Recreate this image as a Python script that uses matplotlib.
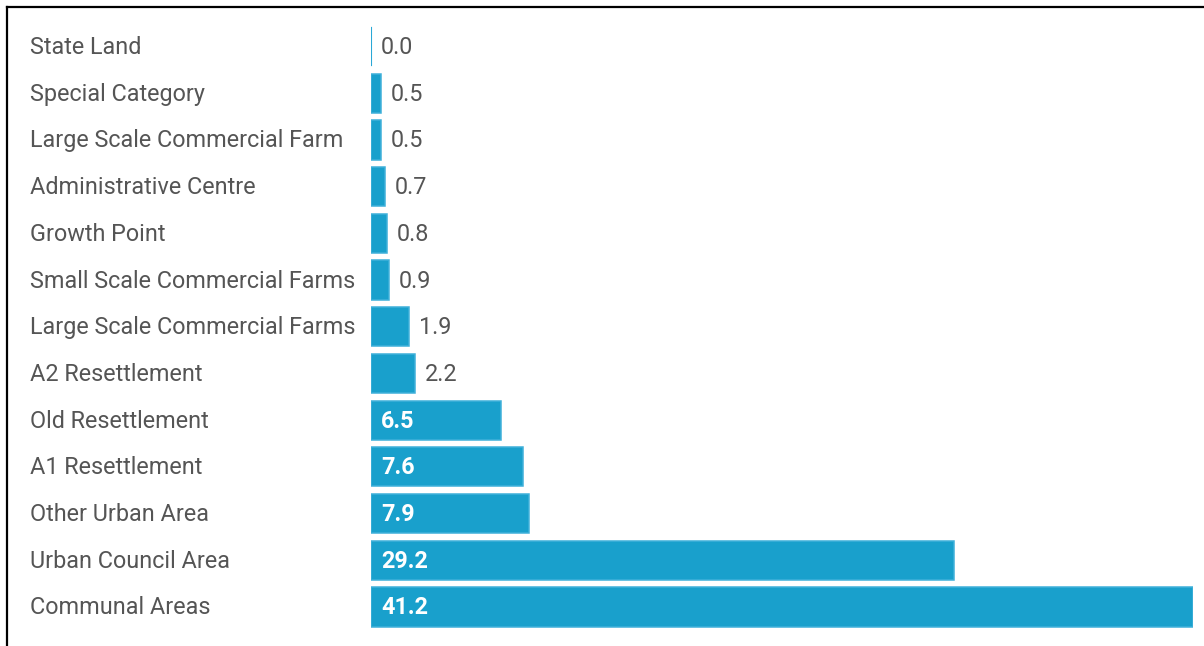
import matplotlib.pyplot as plt
from matplotlib.lines import Line2D

categories = [
    "State Land",
    "Special Category",
    "Large Scale Commercial Farm",
    "Administrative Centre",
    "Growth Point",
    "Small Scale Commercial Farms",
    "Large Scale Commercial Farms",
    "A2 Resettlement",
    "Old Resettlement",
    "A1 Resettlement",
    "Other Urban Area",
    "Urban Council Area",
    "Communal Areas",
]
values = [0.0, 0.5, 0.5, 0.7, 0.8, 0.9, 1.9, 2.2, 6.5, 7.6, 7.9, 29.2, 41.2]

BAR = "#19a0cc"
TEXT = "#555555"
W, H = 1204, 646

plt.rcParams["font.family"] = ["Roboto", "DejaVu Sans"]

fig = plt.figure(figsize=(W / 100, H / 100), dpi=100)
fig.patch.set_facecolor("white")

# axes box in pixels: bars start at x=371, longest bar ends at x=1193
left, right, top, bottom = 371, 1193, 20, 634
ax = fig.add_axes([left / W, (H - bottom) / H, (right - left) / W, (bottom - top) / H])
row = 46.7
first = 46.5
ax.set_ylim(12 + (bottom - 607) / row, -(first - top) / row)
ax.set_xlim(0, max(values))
ax.axis("off")

ypos = range(len(categories))
# zero-length bars still show as a thin blue stroke
edge_w = [1.5 if v == 0 else 1.1 for v in values]
bars = ax.barh(ypos, values, height=0.84, color=BAR, edgecolor="#3fb0da", linewidth=edge_w)
for b, v in zip(bars, values):
    if v == 0:
        b.set_snap(False)
        b.set_edgecolor("#2aa8d6")

fs = 16.8
for i, (name, v) in enumerate(zip(categories, values)):
    ax.annotate(name, xy=(0, i), xycoords=("figure fraction", "data"),
                xytext=(30, -1), textcoords="offset pixels",
                ha="left", va="center", fontsize=fs, color=TEXT)
    if v >= 5:
        ax.annotate(f"{v:.1f}", xy=(0, i), xytext=(10, -1), textcoords="offset pixels",
                    ha="left", va="center", fontsize=fs, color="white",
                    fontweight="bold")
    else:
        ax.annotate(f"{v:.1f}", xy=(v, i), xytext=(10, -1), textcoords="offset pixels",
                    ha="left", va="center", fontsize=fs, color=TEXT)

# frame on the top and left edges
fig.add_artist(Line2D([7 / W, 1], [1 - 7 / H, 1 - 7 / H], color="black", lw=1.6,
                      transform=fig.transFigure))
fig.add_artist(Line2D([7 / W, 7 / W], [0, 1 - 7 / H], color="black", lw=1.6,
                      transform=fig.transFigure))

fig.savefig("out.png", dpi=100)
